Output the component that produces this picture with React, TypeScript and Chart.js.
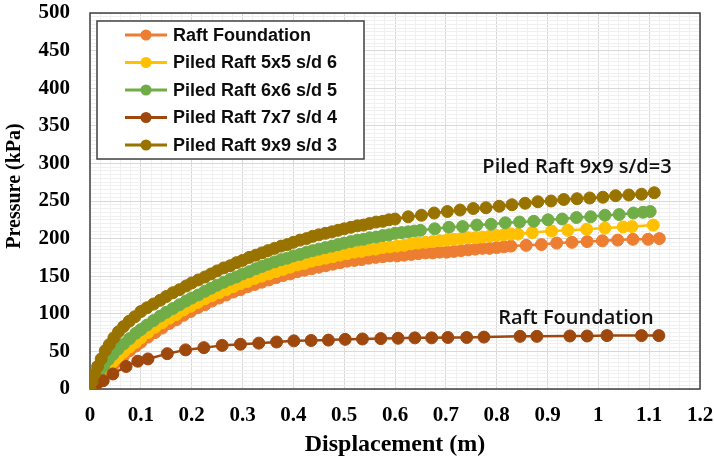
import { useEffect, useRef } from "react";
import { Chart, registerables } from "chart.js";

Chart.register(...registerables);

// Axis ranges and tick steps
const X_MAX = 1.2;
const Y_MAX = 500;
const X_MINOR = 0.02;
const Y_MINOR = 5;

// Series names (legend order)
const seriesNames = [
  "Raft Foundation",
  "Piled Raft 5x5 s/d 6",
  "Piled Raft 6x6 s/d 5",
  "Piled Raft 7x7 s/d 4",
  "Piled Raft 9x9 s/d 3",
];
const seriesColors = ["#ED7D31", "#FFC000", "#70AD47", "#9E480E", "#997300"];

// Raft Foundation: displacement (m) / pressure (kPa)
const raftX = [
  0, 0.006, 0.012, 0.019, 0.027, 0.036, 0.045, 0.055, 0.066, 0.078, 0.09, 0.1,
  0.114, 0.128, 0.142, 0.156, 0.17, 0.184, 0.198, 0.212, 0.226, 0.24, 0.254,
  0.268, 0.282, 0.296, 0.31, 0.324, 0.338, 0.352, 0.366, 0.38, 0.394, 0.408,
  0.422, 0.436, 0.45, 0.464, 0.478, 0.492, 0.506, 0.52, 0.534, 0.548, 0.562,
  0.576, 0.59, 0.604, 0.618, 0.632, 0.646, 0.66, 0.674, 0.688, 0.702, 0.716,
  0.73, 0.744, 0.758, 0.772, 0.786, 0.8, 0.814, 0.828, 0.858, 0.888, 0.918,
  0.948, 0.978, 1.008, 1.038, 1.068, 1.098, 1.12,
];
const raftP = [
  0, 4, 8, 13, 19, 25, 31, 37, 44, 51, 57, 62,
  69, 75, 81, 87, 92, 98, 103, 108, 112, 117, 121,
  125, 129, 132, 136, 139, 142, 145, 148, 151, 153, 156,
  158, 160, 162, 164, 166, 168, 170, 171, 172, 174, 175,
  176, 177, 177, 178, 179, 180, 181, 181, 182, 182, 183,
  184, 185, 186, 187, 187, 188, 189, 190, 191, 192, 194,
  195, 196, 197, 198, 199, 199, 200,
];

// Piled Raft 5x5 s/d 6
const pr5X = [
  0, 0.006, 0.012, 0.019, 0.027, 0.036, 0.045, 0.055, 0.066, 0.078, 0.09, 0.1,
  0.114, 0.128, 0.142, 0.156, 0.17, 0.184, 0.198, 0.212, 0.226, 0.24, 0.254,
  0.268, 0.282, 0.296, 0.31, 0.324, 0.338, 0.352, 0.366, 0.38, 0.394, 0.408,
  0.422, 0.436, 0.45, 0.464, 0.478, 0.492, 0.506, 0.52, 0.534, 0.548, 0.562,
  0.576, 0.59, 0.604, 0.618, 0.632, 0.646, 0.66, 0.674, 0.688, 0.702, 0.716,
  0.73, 0.744, 0.758, 0.772, 0.786, 0.8, 0.814, 0.828, 0.842, 0.87, 0.908,
  0.94, 0.977, 1.013, 1.049, 1.066, 1.108,
];
const pr5P = [
  0, 6, 12, 17, 23, 29, 36, 42, 49, 56, 62, 68,
  75, 82, 88, 94, 99, 105, 110, 115, 120, 124, 128,
  132, 136, 140, 143, 147, 150, 153, 156, 159, 162, 165,
  167, 170, 172, 174, 176, 178, 180, 182, 183, 185, 186,
  188, 189, 190, 191, 193, 194, 195, 196, 197, 198, 199,
  200, 201, 201, 202, 203, 204, 205, 206, 206, 208, 210,
  211, 212.5, 214, 215.5, 216, 218,
];

// Piled Raft 6x6 s/d 5
const pr6X = [
  0, 0.006, 0.012, 0.019, 0.027, 0.036, 0.045, 0.055, 0.066, 0.078, 0.09, 0.1,
  0.112, 0.125, 0.138, 0.15, 0.163, 0.176, 0.189, 0.2, 0.213, 0.226, 0.238,
  0.25, 0.263, 0.276, 0.288, 0.3, 0.313, 0.326, 0.338, 0.35, 0.363, 0.376,
  0.388, 0.4, 0.413, 0.426, 0.438, 0.45, 0.463, 0.476, 0.488, 0.5, 0.513,
  0.526, 0.538, 0.55, 0.563, 0.576, 0.588, 0.6, 0.613, 0.626, 0.638, 0.65,
  0.678, 0.706, 0.733, 0.761, 0.789, 0.817, 0.845, 0.873, 0.901, 0.929, 0.957,
  0.985, 1.013, 1.041, 1.069, 1.088, 1.102,
];
const pr6P = [
  0, 9, 16, 24, 31, 39, 46, 53, 60, 67, 74, 79,
  85, 91, 97, 102, 107, 112, 117, 121, 125, 130, 134,
  138, 142, 146, 149, 153, 156, 160, 163, 166, 169, 172,
  174, 177, 179, 182, 184, 186, 188, 190, 192, 194, 196,
  198, 199, 201, 202, 204, 205, 207, 208, 209, 210, 211,
  213, 215, 216, 218, 219, 221, 222, 223, 225, 226, 228,
  229, 231, 232, 234, 235, 236,
];

// Piled Raft 7x7 s/d 4
const pr7X = [
  0, 0.012, 0.026, 0.045, 0.071, 0.094, 0.114, 0.152, 0.188, 0.224, 0.26,
  0.296, 0.332, 0.367, 0.401, 0.435, 0.469, 0.502, 0.536, 0.572, 0.606, 0.639,
  0.672, 0.704, 0.741, 0.775, 0.846, 0.879, 0.944, 0.978, 1.017, 1.085, 1.119,
];
const pr7P = [
  0, 5, 11, 20, 30, 37, 40, 47, 52, 55, 58,
  59.5, 61, 62.5, 64, 64.5, 65, 66, 66.5, 67, 67.5, 68,
  68, 68.5, 68.5, 69, 70, 70, 70.5, 70.5, 71, 71, 71,
];

// Piled Raft 9x9 s/d 3
const pr9X = [
  0, 0.004, 0.009, 0.015, 0.022, 0.03, 0.038, 0.047, 0.056, 0.066, 0.077,
  0.088, 0.1, 0.112, 0.125, 0.138, 0.15, 0.163, 0.176, 0.189, 0.2, 0.213,
  0.226, 0.238, 0.25, 0.263, 0.276, 0.288, 0.3, 0.313, 0.326, 0.338, 0.35,
  0.363, 0.376, 0.388, 0.4, 0.413, 0.426, 0.438, 0.45, 0.463, 0.476, 0.488,
  0.5, 0.513, 0.526, 0.538, 0.55, 0.563, 0.576, 0.588, 0.6, 0.626, 0.652,
  0.677, 0.703, 0.728, 0.754, 0.779, 0.805, 0.83, 0.856, 0.881, 0.907, 0.932,
  0.958, 0.983, 1.009, 1.034, 1.06, 1.085, 1.11,
];
const pr9P = [
  0, 10, 20, 30, 40, 51, 59, 68, 76, 83, 90,
  96, 103, 108, 113, 118, 123, 128, 132, 137, 141, 145,
  149, 153, 157, 161, 164, 168, 171, 175, 178, 181, 184,
  187, 190, 192, 195, 198, 200, 203, 205, 207, 209, 211,
  213, 215, 217, 218, 220, 222, 223, 225, 226, 229, 231,
  234, 236, 238, 240, 241, 243, 245, 247, 249, 250, 252,
  253, 254, 255, 257, 258, 259, 261,
];

const seriesX = [raftX, pr5X, pr6X, pr7X, pr9X];
const seriesP = [raftP, pr5P, pr6P, pr7P, pr9P];

// Text notes placed in data coordinates
const noteTexts = ["Piled Raft 9x9 s/d=3", "Raft Foundation"];
const noteX = [0.958, 0.956];
const noteY = [294.5, 94.5];

const SERIF = '"Liberation Serif", "Times New Roman", serif';
const SANS = '"Liberation Sans", Arial, sans-serif';

const isMajorX = (v: number) => Math.round(v * 100) % 10 === 0;
const isMajorY = (v: number) => Math.round(v) % 50 === 0;

const framePlugin = {
  id: "plotFrame",
  beforeDatasetsDraw(chart: any) {
    const { ctx, chartArea: a } = chart;
    ctx.save();
    ctx.strokeStyle = "#404040";
    ctx.lineWidth = 1.5;
    ctx.strokeRect(a.left, a.top, a.right - a.left, a.bottom - a.top);
    ctx.restore();
  },
};

const overlayPlugin = {
  id: "overlay",
  afterDraw(chart: any) {
    const { ctx, chartArea: a, scales } = chart;
    ctx.save();

    // y-axis title
    ctx.save();
    ctx.translate(15, (a.top + a.bottom) / 2 - 15);
    ctx.rotate(-Math.PI / 2);
    ctx.font = `bold 20px ${SERIF}`;
    ctx.fillStyle = "#000";
    ctx.textAlign = "center";
    ctx.textBaseline = "middle";
    ctx.fillText("Pressure (kPa)", 0, 0);
    ctx.restore();

    // legend box
    const bx = a.left + 7;
    const by = a.top + 8;
    const bw = 267;
    const bh = 138;
    ctx.fillStyle = "#ffffff";
    ctx.fillRect(bx, by, bw, bh);
    ctx.strokeStyle = "#404040";
    ctx.lineWidth = 1.5;
    ctx.strokeRect(bx, by, bw, bh);

    ctx.font = `bold 18px ${SANS}`;
    ctx.textAlign = "left";
    ctx.textBaseline = "middle";
    chart.data.datasets.forEach((ds: any, i: number) => {
      const y = by + 14 + i * 27.5;
      const color = ds.borderColor;
      ctx.strokeStyle = color;
      ctx.lineWidth = 3;
      ctx.beginPath();
      ctx.moveTo(bx + 28, y);
      ctx.lineTo(bx + 70, y);
      ctx.stroke();
      ctx.fillStyle = color;
      ctx.beginPath();
      ctx.arc(bx + 49, y, 5.5, 0, Math.PI * 2);
      ctx.fill();
      ctx.fillStyle = "#0d0d0d";
      ctx.fillText(ds.label, bx + 76, y + 1);
    });

    // notes
    ctx.font = `600 20px "Open Sans", ${SANS}`;
    ctx.fillStyle = "#111";
    ctx.textAlign = "center";
    ctx.textBaseline = "middle";
    noteTexts.forEach((t, i) => {
      const px = scales.x.getPixelForValue(noteX[i]);
      const py = scales.y.getPixelForValue(noteY[i]);
      ctx.fillText(t, px, py);
    });

    ctx.restore();
  },
};

export default function App() {
  const canvasRef = useRef<HTMLCanvasElement | null>(null);

  useEffect(() => {
    const canvas = canvasRef.current;
    if (!canvas) return;

    const orders = [4, 3, 2, 1, 0];
    const datasets = seriesNames.map((name, i) => ({
      label: name,
      data: seriesX[i].map((x, j) => ({ x, y: seriesP[i][j] })),
      borderColor: seriesColors[i],
      backgroundColor: seriesColors[i],
      pointBackgroundColor: seriesColors[i],
      pointBorderColor: seriesColors[i],
      pointBorderWidth: 1,
      pointRadius: 6,
      borderWidth: 2.5,
      showLine: true,
      tension: 0,
      order: orders[i],
    }));

    const chart = new Chart(canvas, {
      type: "scatter",
      data: { datasets },
      options: {
        responsive: false,
        animation: false,
        devicePixelRatio: 1,
        layout: { padding: { top: 13, right: 14, left: 0, bottom: 0 } },
        plugins: {
          legend: { display: false },
          tooltip: { enabled: false },
        },
        scales: {
          x: {
            type: "linear",
            min: 0,
            max: X_MAX,
            afterFit: (s: any) => {
              s.height = 68;
              s.paddingLeft = 0;
              s.paddingRight = 0;
            },
            ticks: {
              stepSize: X_MINOR,
              autoSkip: false,
              maxRotation: 0,
              minRotation: 0,
              padding: 14,
              color: "#000",
              font: { family: SERIF, weight: "bold", size: 21 },
              callback: (v: any) => {
                const k = Math.round(Number(v) * 100);
                return k % 10 === 0 ? String(k / 100) : "";
              },
            },
            grid: {
              drawTicks: false,
              lineWidth: 1,
              color: (c: any) =>
                c.tick && isMajorX(c.tick.value) ? "#d9d9d9" : "#f0f0f0",
            },
            border: { display: false },
            title: {
              display: true,
              text: "Displacement (m)",
              color: "#000",
              padding: 0,
              font: { family: SERIF, weight: "bold", size: 24, lineHeight: 1 },
            },
          },
          y: {
            type: "linear",
            min: 0,
            max: Y_MAX,
            afterFit: (s: any) => {
              s.width = 90;
              s.paddingTop = 0;
              s.paddingBottom = 0;
            },
            ticks: {
              stepSize: Y_MINOR,
              autoSkip: false,
              padding: 20,
              color: "#000",
              font: { family: SERIF, weight: "bold", size: 21 },
              callback: (v: any) => {
                const k = Math.round(Number(v));
                return k % 50 === 0 ? String(k) : "";
              },
            },
            grid: {
              drawTicks: false,
              lineWidth: 1,
              color: (c: any) =>
                c.tick && isMajorY(c.tick.value) ? "#d9d9d9" : "#f0f0f0",
            },
            border: { display: false },
            title: { display: false },
          },
        },
      },
      plugins: [framePlugin, overlayPlugin],
    });

    return () => chart.destroy();
  }, []);

  return (
    <div style={{ position: "absolute", left: 0, top: 0, width: 714, height: 457, background: "#fff" }}>
      <canvas ref={canvasRef} width={714} height={457} style={{ display: "block" }} />
    </div>
  );
}
